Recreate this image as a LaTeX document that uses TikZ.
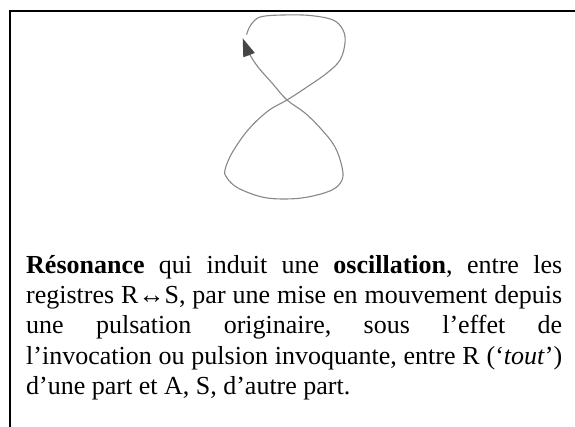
\documentclass[tikz,border=0pt]{standalone}
\usepackage{fontspec}
\setmainfont{Liberation Serif}
\usepackage{xcolor}
\usetikzlibrary{arrows.meta}
\definecolor{pencil}{RGB}{135,135,135}
\definecolor{pencilhead}{RGB}{70,70,70}

\begin{document}
\begin{tikzpicture}[
  x=1pt, y=-1pt,
  frame/.style={line width=2.2pt, line join=miter},
  loop8/.style={draw=pencil, line width=1.1pt, line cap=round,
                -{Triangle[length=18pt,width=12pt,color=pencilhead]}},
  caption/.style={anchor=base west, inner sep=0pt, text width=536pt,
                  align=justify, font=\fontsize{26}{30}\selectfont}
]
  \useasboundingbox (0,0) rectangle (575,427);
  % Frame
  \draw[frame] (10,427) |- (575,11);
  % Figure eight
  \coordinate (start) at (246.7,34.3);
  \coordinate (cross) at (287,100);
  \coordinate (tip)   at (242.7,38.3);
  \draw[loop8] plot[smooth, tension=0.6] coordinates {
    (start) (249,28) (254,21) (262,16.5) (283,15) (310,15.5) (333,20)
    (343,30) (345,43) (340,60) (327,73) (307,87) (cross) (268,111)
    (248,130) (232,153) (225,170) (227,178) (238,188) (262,197)
    (285,199) (308,197) (332,190) (342,180) (342,167) (335,147)
    (322,130) (305,113) (cross) (272,83) (258,67) (249,53) (tip)};
  % Caption
  \node[caption] (text) at (26,274) {\tolerance=10000\frenchspacing
    \textbf{Résonance} qui induit une \textbf{oscillation}, entre les\linebreak
    registres R↔S, par une mise en mouvement depuis\linebreak
    une pulsation originaire, sous l’effet de\linebreak
    l’invocation ou pulsion invoquante, entre R (‘\textit{tout}’)\linebreak
    d’une part et A, S, d’autre part.};
\end{tikzpicture}
\end{document}
